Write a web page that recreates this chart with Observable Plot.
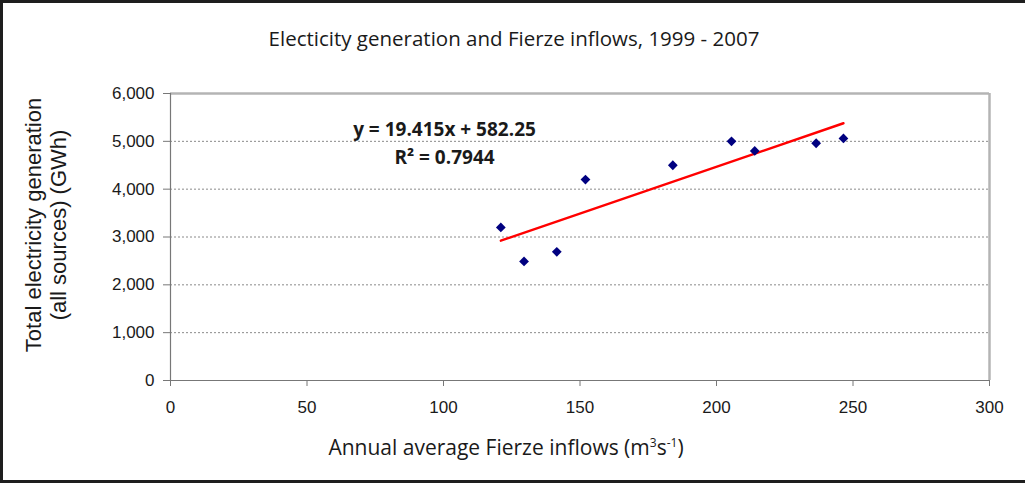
<!DOCTYPE html>
<html>
<head>
<meta charset="utf-8">
<script src="https://cdn.jsdelivr.net/npm/d3@7"></script>
<script src="https://cdn.jsdelivr.net/npm/@observablehq/plot@0.6"></script>
<style>
  body { margin: 0; background: #fff; }
  #wrap { position: relative; width: 1025px; height: 483px; overflow: hidden; background: #fff; }
  #border { position: absolute; left: 0; top: 0; width: 1025px; height: 483px; box-sizing: border-box;
            border-top: 3px solid #1e1e1e; border-left: 3px solid #1e1e1e; border-bottom: 3px solid #1e1e1e; pointer-events: none; }
  #chart { position: absolute; left: 0; top: 0; }
  .title { position: absolute; left: 0; width: 1028px; text-align: center; top: 24px;
           font-family: "Open Sans", sans-serif; font-size: 20.5px; letter-spacing: 0px; color: #1a1a1a; }
  .xlabel { position: absolute; left: 170px; width: 672px; text-align: center; top: 433px;
            font-family: "Open Sans", sans-serif; font-size: 21px; color: #1a1a1a; }
  .xlabel sup { font-size: 12px; line-height: 0; vertical-align: 8px; }
  .ylabel { position: absolute; left: 46px; top: 225px; transform: translate(-50%, -50%) rotate(-90deg);
            white-space: nowrap; text-align: center; font-family: "Liberation Sans", Arial, sans-serif;
            font-size: 22px; line-height: 25px; color: #1a1a1a; }
</style>
</head>
<body>
<div id="wrap">
  <div id="chart"></div>
  <div class="title">Electicity generation and Fierze inflows, 1999 - 2007</div>
  <div class="ylabel">Total electricity generation<br>(all sources) (GWh)</div>
  <div class="xlabel">Annual average Fierze inflows (m<sup>3</sup>s<sup>-1</sup>)</div>
  <div id="border"></div>
</div>
<script>
// Data
const inflows = [121, 129.5, 141.5, 152, 184, 205.5, 214, 236.5, 246.5];
const generation = [3200, 2490, 2690, 4200, 4500, 5000, 4800, 4960, 5060];
const xTicks = [0, 50, 100, 150, 200, 250, 300];
const yTicks = [0, 1000, 2000, 3000, 4000, 5000, 6000];
const gridTicks = [1000, 2000, 3000, 4000, 5000];
const equationLines = ["y = 19.415x + 582.25", "R² = 0.7944"];

const points = inflows.map((x, i) => ({x, y: generation[i]}));

const chart = Plot.plot({
  width: 1025,
  height: 483,
  marginLeft: 170,
  marginRight: 36,
  marginTop: 93,
  marginBottom: 103,
  style: {background: "transparent", fontFamily: "'Liberation Sans', Arial, sans-serif", fontSize: "17px", color: "#1a1a1a"},
  x: {domain: [0, 300]},
  y: {domain: [0, 6000]},
  marks: [
    Plot.gridY(gridTicks, {stroke: "#8a8a8a", strokeOpacity: 1, strokeDasharray: "2,2", strokeWidth: 1}),
    Plot.ruleY([6000], {stroke: "#b4b4b4", strokeWidth: 2.5}),
    Plot.ruleX([300], {stroke: "#b4b4b4", strokeWidth: 2.5}),
    Plot.axisX(xTicks, {tickSize: 6, tickPadding: 14, stroke: "#777", fontSize: 17, label: null}),
    Plot.axisY(yTicks, {tickSize: 7, tickPadding: 9, stroke: "#777", fontSize: 17, tickFormat: d3.format(","), label: null}),
    Plot.ruleY([0], {stroke: "#777", strokeWidth: 1.2}),
    Plot.ruleX([0], {stroke: "#777", strokeWidth: 1.2}),
    Plot.linearRegressionY(points, {x: "x", y: "y", ci: 0, stroke: "#ff0000", strokeWidth: 2.4}),
    Plot.dot(points, {x: "x", y: "y", symbol: "square", rotate: 45, r: 3.9, fill: "#000080", stroke: "none"}),
    Plot.text([equationLines.join("\n")], {frameAnchor: "top-left", dx: 274, dy: 23, lineHeight: 1.45,
      fontWeight: "bold", fontSize: 19, fontFamily: "'Open Sans', sans-serif", letterSpacing: "-0.1px", fill: "#1a1a1a", textAnchor: "middle"})
  ]
});
document.getElementById("chart").appendChild(chart);
</script>
</body>
</html>
